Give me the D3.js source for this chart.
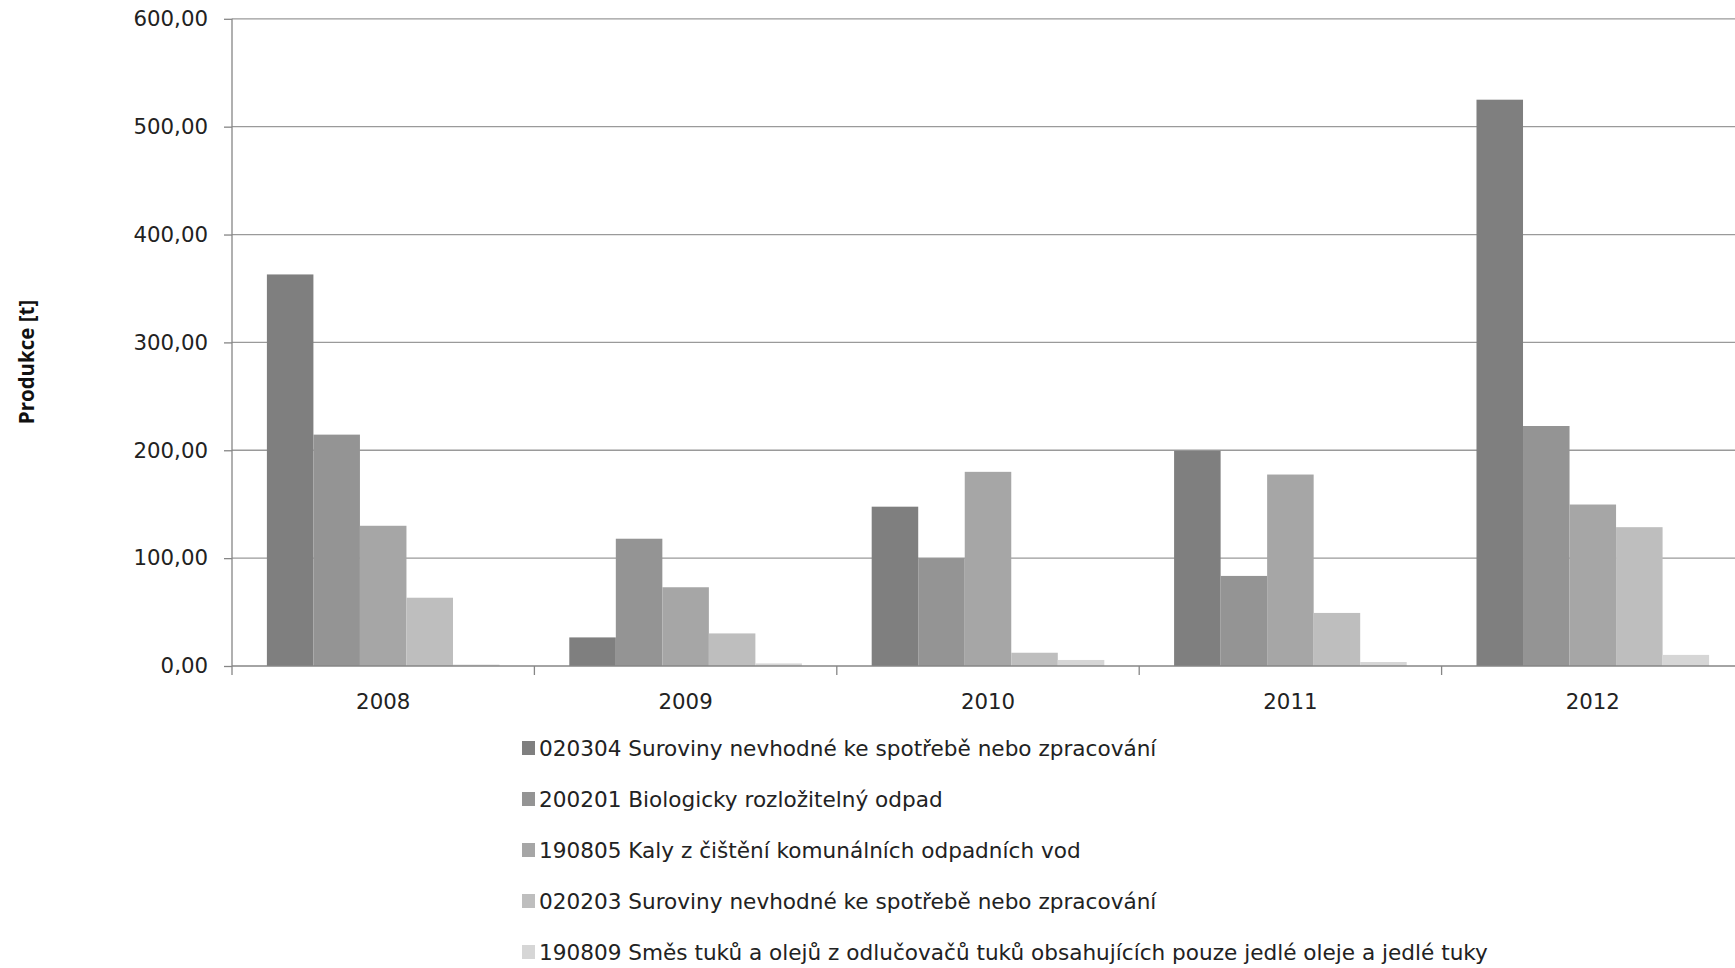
<!DOCTYPE html>
<html>
<head>
<meta charset="utf-8">
<script src="https://cdn.jsdelivr.net/npm/d3@7"></script>
<style>
  body { margin: 0; background: #fff; }
  text { font-family: "DejaVu Sans", sans-serif; }
</style>
</head>
<body>
<div id="chart"></div>
<script>
// DATA
const years = ["2008", "2009", "2010", "2011", "2012"];
const seriesNames = [
    "020304 Suroviny nevhodné ke spotřebě nebo zpracování",
    "200201 Biologicky rozložitelný odpad",
    "190805 Kaly z čištění komunálních odpadních vod",
    "020203 Suroviny nevhodné ke spotřebě nebo zpracování",
    "190809 Směs tuků a olejů z odlučovačů tuků obsahujících pouze jedlé oleje a jedlé tuky"
];
const s020304 = [363, 26.5, 147.7, 199.5, 525];
const s200201 = [214.5, 118, 100, 83.5, 222.5];
const s190805 = [130, 73, 180, 177.5, 149.7];
const s020203 = [63.3, 30.2, 12.3, 49.2, 128.7];
const s190809 = [1.3, 2.4, 5.6, 3.7, 10.3];
const yTicks = [0, 100, 200, 300, 400, 500, 600];

const seriesValues = [s020304, s200201, s190805, s020203, s190809];
const colors = ["#7f7f7f", "#949494", "#a6a6a6", "#bebebe", "#d6d6d6"];

// LAYOUT
const width = 1735;
const height = 968;
const plotLeft = 232;
const plotTop = 18.8;
const plotBottom = 666;
const plotRight = 232 + 5 * 302.4;   // runs past the right edge, like the original

const svg = d3.select("#chart")
    .append("svg")
        .attr("width", width)
        .attr("height", height);

const x0 = d3.scaleBand()
    .domain(years)
    .range([plotLeft, plotRight])
    .padding(0);

// 5 bars + 150% gap per category
const x1 = d3.scaleBand()
    .domain(d3.range(seriesNames.length))
    .range([0, x0.bandwidth()])
    .paddingInner(0)
    .paddingOuter(0.75);

const y = d3.scaleLinear()
    .domain([0, 600])
    .range([plotBottom, plotTop]);

const fmt = v => d3.format(".2f")(v).replace(".", ",");
const axisColor = "#868686";

// gridlines
svg.append("g")
        .attr("class", "grid")
    .selectAll("line")
    .data(yTicks.filter(d => d > 0))
    .enter()
    .append("line")
        .attr("x1", plotLeft)
        .attr("x2", plotRight)
        .attr("y1", d => y(d))
        .attr("y2", d => y(d))
        .attr("stroke", "#9a9a9a")
        .attr("stroke-width", 1.3);

// bars
const rows = years.map((yr, i) => ({ year: yr, vals: seriesValues.map(s => s[i]) }));

svg.append("g")
        .attr("class", "bars")
    .selectAll("g")
    .data(rows)
    .enter()
    .append("g")
        .attr("transform", d => "translate(" + x0(d.year) + ",0)")
    .selectAll("rect")
    .data(d => d.vals)
    .enter()
    .append("rect")
        .attr("x", (d, i) => x1(i))
        .attr("y", d => y(d))
        .attr("width", x1.bandwidth())
        .attr("height", d => y(0) - y(d))
        .attr("fill", (d, i) => colors[i]);

// y axis
const gy = svg.append("g")
        .attr("transform", "translate(" + plotLeft + ",0)")
        .call(d3.axisLeft(y).tickValues(yTicks).tickSize(8).tickFormat(fmt));
gy.select(".domain").attr("stroke", axisColor).attr("stroke-width", 1.3).attr("d", "M0," + plotTop + "V" + plotBottom);
gy.selectAll(".tick line").attr("stroke", axisColor).attr("stroke-width", 1.3);
gy.selectAll(".tick text")
    .attr("x", -24)
    .style("font-size", "21.3px")
    .style("font-family", "'DejaVu Sans', sans-serif")
    .attr("fill", "#222");

// x axis
const gx = svg.append("g")
        .attr("transform", "translate(0," + plotBottom + ")")
        .call(d3.axisBottom(x0).tickSize(0).tickPadding(28));
gx.select(".domain").attr("stroke", axisColor).attr("stroke-width", 1.3).attr("d", "M" + plotLeft + ",0H" + plotRight);
gx.selectAll(".tick text")
    .style("font-size", "21.3px")
    .style("font-family", "'DejaVu Sans', sans-serif")
    .attr("fill", "#222");

// category separator ticks
svg.append("g")
    .selectAll("line")
    .data(years)
    .enter()
    .append("line")
        .attr("x1", d => x0(d))
        .attr("x2", d => x0(d))
        .attr("y1", plotBottom)
        .attr("y2", plotBottom + 9)
        .attr("stroke", axisColor)
        .attr("stroke-width", 1.3);

// y title
svg.append("text")
    .attr("transform", "translate(34,362) rotate(-90)")
    .attr("text-anchor", "middle")
    .style("font-family", "'Open Sans', sans-serif")
    .style("font-size", "20.5px")
    .style("font-weight", "bold")
    .attr("fill", "#111")
    .text("Produkce [t]");

// legend
const legend = svg.append("g")
        .attr("class", "legend")
    .selectAll("g")
    .data(seriesNames)
    .enter()
    .append("g")
        .attr("transform", (d, i) => "translate(522," + (748 + i * 51) + ")");

legend.append("rect")
    .attr("x", 0)
    .attr("y", -7)
    .attr("width", 13)
    .attr("height", 14)
    .attr("fill", (d, i) => colors[i]);

legend.append("text")
    .attr("x", 17)
    .attr("dy", "0.35em")
    .style("font-size", "21.6px")
    .attr("fill", "#222")
    .text(d => d);
</script>
</body>
</html>
